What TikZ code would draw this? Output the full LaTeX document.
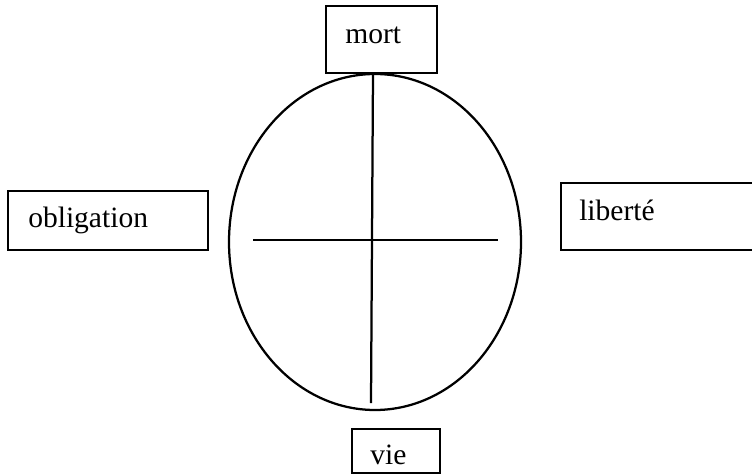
\documentclass[tikz,border=0pt]{standalone}
\usepackage{fontspec}
\setmainfont{Liberation Serif}
\tikzset{
  box/.style={draw, line width=2pt, inner sep=0pt},
  lbl/.style={inner sep=0pt, anchor=base west, font=\fontsize{21}{25}\selectfont},
  trait/.style={line width=1.6pt}
}
\begin{document}
\begin{tikzpicture}[x=0.025cm, y=-0.025cm]
  % cadre
  \clip (0,0) rectangle (752,475);
  \fill[white] (0,0) rectangle (752,475);

  % cercle et croix
  \draw[trait] (375,242) ellipse [x radius=146, y radius=168];
  \coordinate (haut) at (373,74);
  \coordinate (bas) at (371,403);
  \coordinate (gauche) at (253,240);
  \coordinate (droite) at (498,240);
  \draw[trait] (haut) -- (bas);
  \draw[trait] (gauche) -- (droite);

  % boites
  \node[box, minimum width=2.775cm, minimum height=1.675cm] (mort) at (381.5,39.5) {};
  \node[box, minimum width=5cm, minimum height=1.475cm] (obligation) at (108,220.5) {};
  \node[box, minimum width=5.225cm, minimum height=1.675cm] (liberte) at (665.5,216.5) {};
  \node[box, minimum width=2.2cm, minimum height=1.1cm] (vie) at (396,451) {};

  % textes
  \node[lbl] (mortlbl) at (345,43) {mort};
  \node[lbl] (obligationlbl) at (28,227) {obligation};
  \node[lbl] (libertelbl) at (579,220) {liberté};
  \node[lbl] (vielbl) at (370,464) {vie};
\end{tikzpicture}
\end{document}
